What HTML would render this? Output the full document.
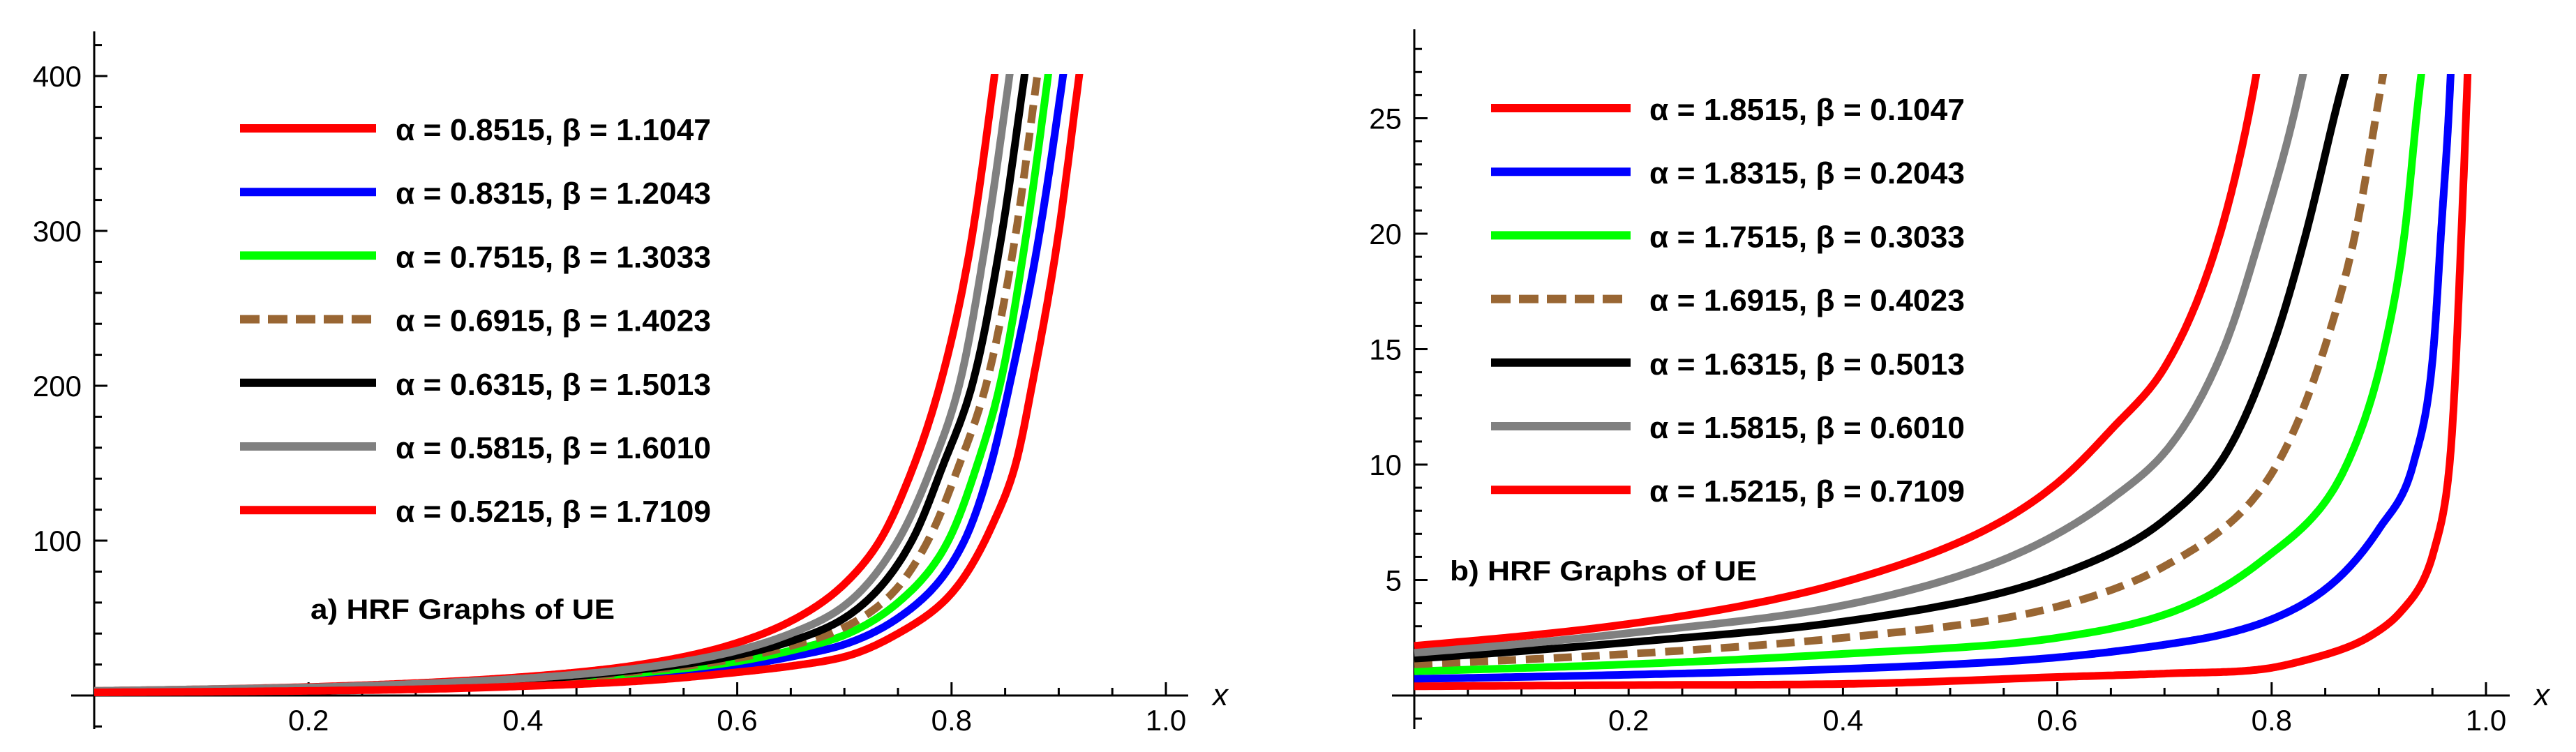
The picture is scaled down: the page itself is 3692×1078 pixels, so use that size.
<!DOCTYPE html>
<html><head><meta charset="utf-8"><style>
html,body{margin:0;padding:0;background:#fff;}
svg{display:block;}
text{font-family:"Liberation Sans",sans-serif;}
</style></head><body>
<svg id="svg" width="3692" height="1078" viewBox="0 0 3692 1078" xmlns="http://www.w3.org/2000/svg">
<defs>
<clipPath id="clipA"><rect x="110" y="106" width="1600" height="972"/></clipPath>
<clipPath id="clipB"><rect x="2000" y="106" width="1600" height="972"/></clipPath>
</defs>
<g id="panelA"></g>
<g id="panelB"></g>
</svg>
<script>
// ---------- Panel A data ----------
const aLabels = ["α = 0.8515, β = 1.1047","α = 0.8315, β = 1.2043","α = 0.7515, β = 1.3033","α = 0.6915, β = 1.4023","α = 0.6315, β = 1.5013","α = 0.5815, β = 1.6010","α = 0.5215, β = 1.7109"];
const aRed1X = [0,.1,.2,.3,.4,.5,.6,.65,.7,.733,.76,.789,.815,.84,.855];
const aRed1Y = [3,4,5.5,8,12,19,34,48,72,100,140,200,280,400,480];
const aBlueX = [0,.1,.2,.3,.4,.5,.6,.65,.7,.75,.8,.812,.835,.854,.88,.904,.92];
const aBlueY = [2.3,3,3.8,5.5,7.5,12,19,25,33,50,85,100,145,200,290,400,480];
const aGreenX = [0,.1,.2,.3,.4,.5,.6,.65,.7,.75,.797,.822,.845,.868,.89,.905];
const aGreenY = [2.5,3.3,4.2,6,8.5,14,22,29,39,60,100,145,200,290,400,480];
const aBrownX = [0,.1,.2,.3,.4,.5,.6,.65,.7,.75,.778,.805,.832,.858,.88,.897];
const aBrownY = [2.6,3.5,4.5,6.5,9,15,24,32,44,70,100,145,200,290,400,480];
const aBlackX = [0,.1,.2,.3,.4,.5,.6,.65,.7,.763,.79,.819,.845,.868,.885];
const aBlackY = [2.8,3.7,4.8,7,10,16,26,35,50,100,145,200,290,400,480];
const aGrayX = [0,.1,.2,.3,.4,.5,.6,.65,.7,.75,.78,.807,.83,.854,.87];
const aGrayY = [3,4,5.2,7.5,11,17,29,40,58,100,145,200,285,400,480];
const aRed2X = [0,.1,.2,.3,.4,.5,.6,.65,.7,.75,.8,.838,.86,.875,.898,.919,.935];
const aRed2Y = [2,2.4,3,4,6,9,15,19,25,40,66,110,150,200,290,400,480];
const aYTicks = [100,200,300,400];
const aXTicks = [0.2,0.4,0.6,0.8,1.0];

// ---------- Panel B data ----------
const bLabels = ["α = 1.8515, β = 0.1047","α = 1.8315, β = 0.2043","α = 1.7515, β = 0.3033","α = 1.6915, β = 0.4023","α = 1.6315, β = 0.5013","α = 1.5815, β = 0.6010","α = 1.5215, β = 0.7109"];
const bRed1X = [0,.2,.4,.6,.65,.7,.755,.778,.80];
const bRed1Y = [2.15,3.1,4.9,9.2,11.5,14.2,20.5,25,31];
const bBlueX = [0,.2,.4,.6,.7,.75,.8,.85,.9,.932,.951,.958,.965,.97];
const bBlueY = [.72,.9,1.15,1.65,2.2,2.6,3.3,4.6,7.2,10,15,20,25,30];
const bGreenX = [0,.2,.4,.6,.7,.79,.87,.905,.924,.935,.95];
const bGreenY = [1.05,1.35,1.8,2.5,3.5,5.8,10,15,20,25,31];
const bBrownX = [0,.2,.4,.6,.7,.805,.849,.878,.897,.915];
const bBrownY = [1.35,1.8,2.5,3.85,5.6,10,15,20,25,30];
const bBlackX = [0,.2,.4,.6,.7,.755,.80,.832,.858,.88];
const bBlackY = [1.6,2.3,3.2,5.2,7.6,10.3,15,20,25,29];
const bGrayX = [0,.2,.4,.6,.65,.705,.755,.79,.82,.845];
const bGrayY = [1.85,2.7,3.9,7.0,8.5,10.8,15,20,25,30.5];
const bRed2X = [0,.2,.4,.6,.7,.8,.829,.893,.92,.951,.966,.977,.985];
const bRed2Y = [.4,.45,.5,.8,.95,1.2,1.5,2.6,3.6,6.2,10,20,30];
const bYTicks = [5,10,15,20,25];
const bXTicks = [0.2,0.4,0.6,0.8,1.0];

const NS = "http://www.w3.org/2000/svg";
function mk(tag, attrs, parent){
  const e = document.createElementNS(NS, tag);
  for (const k in attrs) e.setAttribute(k, attrs[k]);
  parent.appendChild(e);
  return e;
}
// monotone cubic interpolation in log(y) space for smooth growth curves
function monoPath(xs, yv, sx, sy){
  const ys = yv.map(v=>Math.log(v));
  const n = xs.length, d = [], m = [];
  for (let i=0;i<n-1;i++) d.push((ys[i+1]-ys[i])/(xs[i+1]-xs[i]));
  m[0]=d[0]; m[n-1]=d[n-2];
  for (let i=1;i<n-1;i++){
    const h0=xs[i]-xs[i-1], h1=xs[i+1]-xs[i];
    m[i] = (d[i-1]*d[i]<=0)?0:(h0*d[i]+h1*d[i-1])/(h0+h1);
  }
  for (let i=0;i<n-1;i++){
    if (d[i]===0){m[i]=0;m[i+1]=0;continue;}
    const a=m[i]/d[i], b=m[i+1]/d[i], s=a*a+b*b;
    if (s>9){const t=3/Math.sqrt(s); m[i]=t*a*d[i]; m[i+1]=t*b*d[i];}
  }
  let p = "M"+sx(xs[0]).toFixed(1)+","+sy(yv[0]).toFixed(1);
  for (let i=0;i<n-1;i++){
    const h = xs[i+1]-xs[i];
    for (let k=1;k<=40;k++){
      const t=k/40, t2=t*t, t3=t2*t;
      const ly = (2*t3-3*t2+1)*ys[i] + (t3-2*t2+t)*h*m[i] + (-2*t3+3*t2)*ys[i+1] + (t3-t2)*h*m[i+1];
      p += " L"+sx(xs[i]+t*h).toFixed(1)+","+sy(Math.exp(ly)).toFixed(1);
    }
  }
  return p;
}

function drawPanel(g, cfg){
  const sx = v => cfg.x0 + v*cfg.xw;
  const sy = v => cfg.y0 - v*cfg.yk;
  const xa = mk("line",{x1:cfg.axL,y1:cfg.y0,x2:cfg.axR,y2:cfg.y0,stroke:"#000","stroke-width":3},g);
   
  const ya = mk("line",{x1:cfg.x0,y1:cfg.axT,x2:cfg.x0,y2:cfg.axB,stroke:"#000","stroke-width":3},g);
   
  for (let i=1;i<=20;i++){
    const v=i*0.05, major=(i%4===0);
    const t = mk("line",{x1:sx(v),y1:cfg.y0,x2:sx(v),y2:cfg.y0-(major?19:11),stroke:"#000","stroke-width":3},g);
     
  }
  cfg.xTicks.forEach(v=>{
    const t = mk("text",{x:sx(v),y:cfg.y0+50,"font-size":42,"text-anchor":"middle"},g);
    t.textContent = v.toFixed(1);
     
  });
  for (let v=cfg.minorStart; v<=cfg.yMaxTick+1e-9; v+=cfg.minor){
    const major = Math.abs(v/cfg.major - Math.round(v/cfg.major))<1e-6 && v>0;
    const t = mk("line",{x1:cfg.x0,y1:sy(v),x2:cfg.x0+(major?19:11),y2:sy(v),stroke:"#000","stroke-width":3},g);
     
  }
  cfg.yTicks.forEach(v=>{
    const t = mk("text",{x:cfg.x0-18,y:sy(v)+15,"font-size":42,"text-anchor":"end"},g);
    t.textContent = String(v);
     
  });
  const xl = mk("text",{x:cfg.axR+35,y:cfg.y0+14,"font-size":44,"font-style":"italic"},g);
  xl.textContent = "x";
   
  const cg = mk("g",{"clip-path":"url(#"+cfg.clip+")"},g);
   
  cfg.series.forEach(s=>{
    const p = mk("path",{d:monoPath(s.x,s.y,sx,sy),fill:"none",stroke:s.c,"stroke-width":11,"stroke-linejoin":"round"},cg);
    if (s.dash) p.setAttribute("stroke-dasharray","26,14");
    
    
  });
  cfg.series.forEach((s,i)=>{
    const yy = cfg.legY0 + i*91.2;
    const l = mk("line",{x1:cfg.legX1,y1:yy,x2:cfg.legX2,y2:yy,stroke:s.c,"stroke-width":12},g);
    if (s.dash) l.setAttribute("stroke-dasharray","28,12");
     
    const t = mk("text",{x:cfg.legTX,y:yy+17,"font-size":44,"font-weight":"bold",textLength:452,lengthAdjust:"spacingAndGlyphs"},g);
    t.textContent = cfg.labels[i];
     
  });
  const ti = mk("text",{x:cfg.titleX,y:cfg.titleY,"font-size":40,"font-weight":"bold",textLength:cfg.titleW,lengthAdjust:"spacingAndGlyphs"},g);
  ti.textContent = cfg.title;
   
}

const colors = ["#ff0000","#0000ff","#00ff00","#996633","#000000","#808080","#ff0000"];
const names = ["curve-red-1","curve-blue","curve-green","curve-brown-dashed","curve-black","curve-gray","curve-red-2"];

const aSeries = [[aRed1X,aRed1Y],[aBlueX,aBlueY],[aGreenX,aGreenY],[aBrownX,aBrownY],[aBlackX,aBlackY],[aGrayX,aGrayY],[aRed2X,aRed2Y]]
  .map((d,i)=>({x:d[0],y:d[1],c:colors[i],name:names[i],dash:i===3}));
const bSeries = [[bRed1X,bRed1Y],[bBlueX,bBlueY],[bGreenX,bGreenY],[bBrownX,bBrownY],[bBlackX,bBlackY],[bGrayX,bGrayY],[bRed2X,bRed2Y]]
  .map((d,i)=>({x:d[0],y:d[1],c:colors[i],name:names[i],dash:i===3}));

drawPanel(document.getElementById("panelA"),{
  x0:135,xw:1536,y0:997,yk:2.22,axL:102,axR:1703,axT:45,axB:1045,
  minor:20,major:100,minorStart:-20,yMaxTick:420,yTicks:aYTicks,xTicks:aXTicks,
  clip:"clipA",series:aSeries,labels:aLabels,legY0:184,legX1:344,legX2:539,legTX:567,
  title:"a) HRF Graphs of UE",titleX:445,titleY:887,titleW:436
});
drawPanel(document.getElementById("panelB"),{
  x0:2027,xw:1536,y0:997,yk:33.1,axL:1995,axR:3597,axT:42,axB:1045,
  minor:1,major:5,minorStart:-1,yMaxTick:28,yTicks:bYTicks,xTicks:bXTicks,
  clip:"clipB",series:bSeries,labels:bLabels,legY0:155,legX1:2137,legX2:2337,legTX:2364,
  title:"b) HRF Graphs of UE",titleX:2078,titleY:832,titleW:440
});
</script>
</body></html>
